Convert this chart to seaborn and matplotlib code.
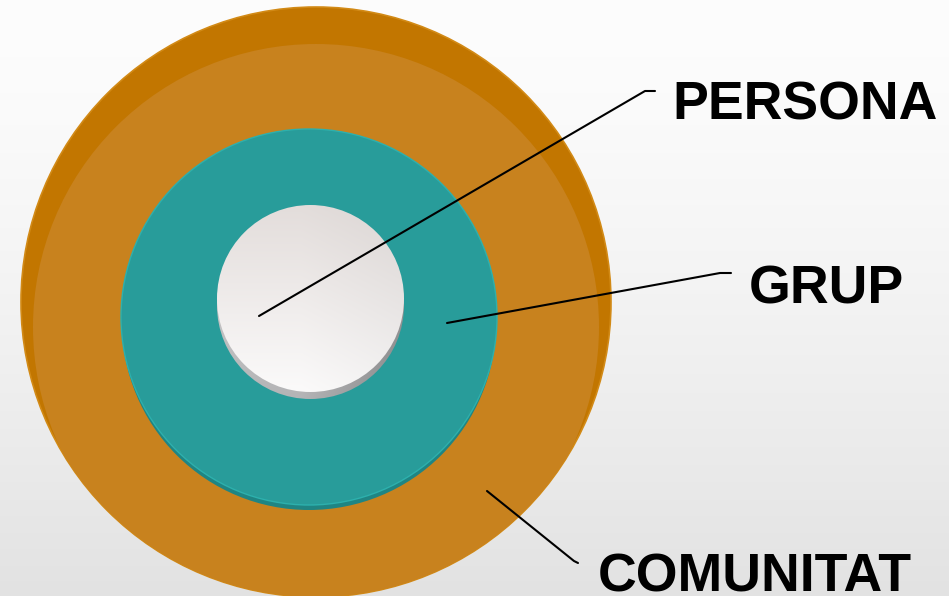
import numpy as np
import pandas as pd
import seaborn as sns
import matplotlib.pyplot as plt
from matplotlib.patches import Circle

# Diagram content: one label per ring, from the inner ring outwards
labels = ["PERSONA", "GRUP", "COMUNITAT"]
ring_radius = [93.5, 188, 295]

# Leader lines: anchor inside the ring -> elbow -> end near the label
leader_x = [[259, 645, 655], [447, 720, 731], [487, 574, 578]]
leader_y = [[316, 91, 91], [323, 273, 273], [491, 561, 563]]
label_x = [672, 749, 598]
label_y = [119, 303, 591]

sns.set_theme(style="white")
plt.rcParams['font.family'] = ['Liberation Sans', 'DejaVu Sans']

W, H = 949, 596
fig = plt.figure(figsize=(W / 100, H / 100), dpi=100)
ax = fig.add_axes([0, 0, 1, 1])
ax.set_xlim(0, W)
ax.set_ylim(H, 0)
ax.axis('off')

# background: white at top fading to light grey at the bottom
t = np.linspace(0, 1, 200)[:, None]
shade = 0.992 - 0.105 * t ** 1.4
bg = np.dstack([shade, shade, shade]) * np.ones((1, 2, 1))
ax.imshow(bg, extent=[0, W, H, 0], aspect='auto', zorder=0)


def gradient_disk(cx, cy, r, top, bottom, left_right=None, z=1):
    clip = Circle((cx, cy), r, facecolor='none', edgecolor='none', transform=ax.transData)
    ax.add_patch(clip)
    n = 120
    yy = np.linspace(0, 1, n)[:, None, None]
    img = np.array(top)[None, None, :] * (1 - yy) + np.array(bottom)[None, None, :] * yy
    img = img * np.ones((1, n, 1))
    if left_right is not None:
        xx = np.linspace(0, 1, n)[None, :, None]
        img = img * (1 - left_right * np.clip(xx - 0.45, 0, 1))
    im = ax.imshow(np.clip(img, 0, 1), extent=[cx - r, cx + r, cy + r, cy - r],
                   aspect='auto', zorder=z, interpolation='bilinear')
    im.set_clip_path(clip)
    return clip


def rgb(h):
    h = h.lstrip('#')
    return [int(h[i:i + 2], 16) / 255 for i in (0, 2, 4)]


r_in, r_mid, r_out = ring_radius

# outer ring: dark rim with a lighter face, face shifted down
outer = Circle((316, 302), r_out, facecolor='#c27600', edgecolor='#d28a16', lw=1.2, zorder=1)
ax.add_patch(outer)
face = Circle((316, 327), r_out - 12, facecolor='#c8821e', edgecolor='none', zorder=2)
ax.add_patch(face)
face.set_clip_path(outer)

# middle ring: darker side showing at the bottom, teal face
ax.add_patch(Circle((309, 323), r_mid - 1, facecolor='#1f8583', edgecolor='none', zorder=3))
ax.add_patch(Circle((309, 317), r_mid, facecolor='#289c9a', edgecolor='#2db0ad', lw=1.0, zorder=4))

# inner disk: grey side at the bottom, pale face on top
gradient_disk(310.5, 305.5, r_in, rgb('#d6d6d6'), rgb('#b4b4b6'), left_right=0.45, z=5)
gradient_disk(310.5, 298.5, r_in, rgb('#e3dddb'), rgb('#fbfafa'), left_right=0.06, z=6)

# leader lines
lines = pd.DataFrame({
    'x': np.concatenate(leader_x),
    'y': np.concatenate(leader_y),
    'label': np.repeat(labels, [len(v) for v in leader_x]),
})
sns.lineplot(data=lines, x='x', y='y', units='label', estimator=None, sort=False,
             color='black', lw=1.5, legend=False, ax=ax, zorder=8)
ax.set_xlim(0, W)
ax.set_ylim(H, 0)
ax.axis('off')

for name, x, y in zip(labels, label_x, label_y):
    ax.text(x, y, name, fontsize=38.6, fontweight='bold', color='black',
            ha='left', va='baseline', zorder=9)

fig.savefig('out.png', dpi=100)
